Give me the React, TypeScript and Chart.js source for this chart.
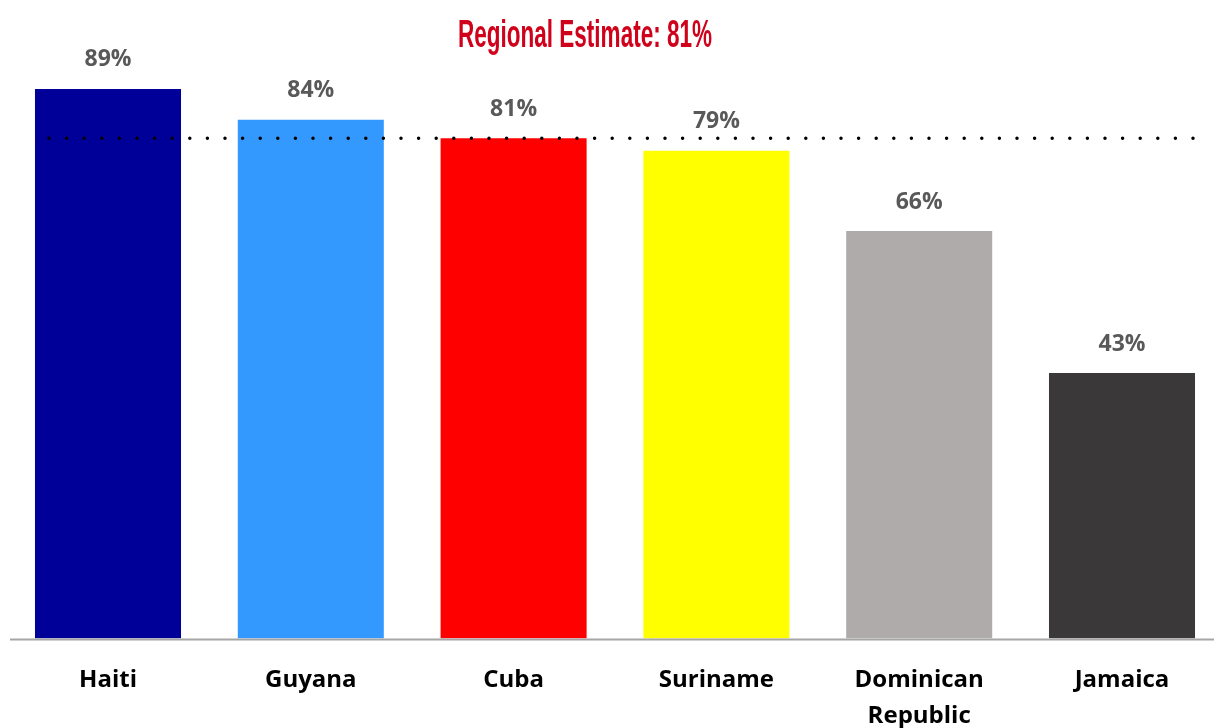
import React, { useEffect, useRef } from "react";
import { Chart, registerables } from "chart.js";

Chart.register(...registerables);

const categories: (string | string[])[] = ["Haiti", "Guyana", "Cuba", "Suriname", ["Dominican", "Republic"], "Jamaica"];
const values = [89, 84, 81, 79, 66, 43];
const barColors = ["#000099", "#3399ff", "#ff0000", "#ffff00", "#afabab", "#3a3838"];
const regionalEstimate = 81;
const titleText = "Regional Estimate: 81%";

const overlayPlugin = {
  id: "overlay",
  afterDatasetsDraw(chart: any) {
    const ctx = chart.ctx as CanvasRenderingContext2D;
    const meta = chart.getDatasetMeta(0);
    const yScale = chart.scales.y;
    const area = chart.chartArea;

    // baseline
    ctx.save();
    ctx.strokeStyle = "#a6a6a6";
    ctx.lineWidth = 2;
    ctx.beginPath();
    ctx.moveTo(10, yScale.getPixelForValue(0) + 1);
    ctx.lineTo(area.right + 20, yScale.getPixelForValue(0) + 1);
    ctx.stroke();
    ctx.restore();

    // data labels
    ctx.save();
    ctx.font = "bold 23px 'Open Sans'";
    ctx.fillStyle = "#595959";
    ctx.textAlign = "center";
    ctx.textBaseline = "middle";
    meta.data.forEach((bar: any, i: number) => {
      ctx.fillText(values[i] + "%", bar.x, bar.y - 29);
    });
    ctx.restore();

    // dotted regional line
    const y = yScale.getPixelForValue(regionalEstimate);
    const first = meta.data[0];
    const last = meta.data[meta.data.length - 1];
    ctx.save();
    ctx.strokeStyle = "#000000";
    ctx.lineWidth = 3.5;
    ctx.lineCap = "round";
    ctx.setLineDash([0, 17.6]);
    ctx.beginPath();
    ctx.moveTo(first.x - first.width / 2 + 14, y);
    ctx.lineTo(last.x + last.width / 2 + 2, y);
    ctx.stroke();
    ctx.restore();

    // title
    ctx.save();
    ctx.font = "bold 39px 'Liberation Sans'";
    ctx.fillStyle = "#d0021b";
    ctx.textBaseline = "alphabetic";
    const w = ctx.measureText(titleText).width;
    const target = 254;
    const sx = target / w;
    const cx = 585;
    ctx.translate(cx - target / 2, 47);
    ctx.scale(sx, 1);
    ctx.fillText(titleText, 0, 0);
    ctx.restore();
  },
};

export default function App() {
  const ref = useRef<HTMLCanvasElement | null>(null);
  useEffect(() => {
    if (!ref.current) return;
    const chart = new Chart(ref.current, {
      type: "bar",
      data: {
        labels: categories,
        datasets: [
          {
            data: values,
            backgroundColor: barColors,
            borderWidth: 0,
            categoryPercentage: 1,
            barPercentage: 0.72,
          },
        ],
      },
      options: {
        animation: false,
        responsive: false,
        maintainAspectRatio: false,
        layout: { padding: { left: 6.6, right: 6.6, top: 21, bottom: 1.4 } },
        plugins: { legend: { display: false }, tooltip: { enabled: false }, title: { display: false } },
        scales: {
          x: {
            grid: { display: false, drawTicks: false },
            border: { display: false },
            ticks: {
              color: "#000000",
              font: { family: "'Open Sans'", size: 24, weight: "bold", lineHeight: 1.5 },
              padding: 24,
              maxRotation: 0,
              autoSkip: false,
            },
          },
          y: { display: false, min: 0, max: 100 },
        },
      },
      plugins: [overlayPlugin],
    });
    return () => chart.destroy();
  }, []);
  return (
    <div style={{ position: "fixed", left: 0, top: 0, width: 1230, height: 760, overflow: "hidden", background: "#fff" }}>
      <canvas ref={ref} width={1230} height={760} style={{ display: "block" }} />
    </div>
  );
}
